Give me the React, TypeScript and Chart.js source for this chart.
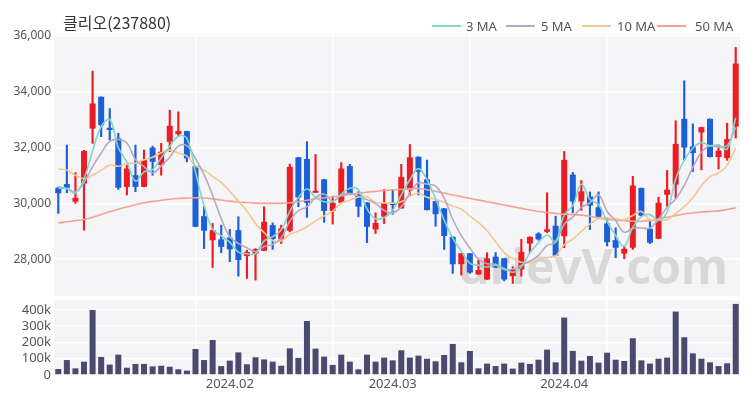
import React, { useEffect, useRef } from 'react';
import { Chart, registerables } from 'chart.js';

Chart.register(...registerables);

const TITLE = '클리오(237880)';
const WATERMARK = 'urievV.com';

// trading days (categories)
const janDays = [4, 5, 8, 9, 10, 11, 12, 15, 16, 17, 18, 19, 22, 23, 24, 25, 26, 29, 30, 31];
const febDays = [1, 2, 5, 6, 7, 8, 13, 14, 15, 16, 19, 20, 21, 22, 23, 26, 27, 28, 29];
const marDays = [4, 5, 6, 7, 8, 11, 12, 13, 14, 15, 18, 19, 20, 21, 22, 25, 26, 27, 28, 29];
const aprDays = [1, 2, 3, 4, 5, 8, 9, 11, 12, 15, 16, 17, 18, 19, 22, 23, 24, 25, 26, 29, 30];

const pad = (n: number) => (n < 10 ? '0' + n : '' + n);
const categories: string[] = [
  ...janDays.map((d) => `2024.01.${pad(d)}`),
  ...febDays.map((d) => `2024.02.${pad(d)}`),
  ...marDays.map((d) => `2024.03.${pad(d)}`),
  ...aprDays.map((d) => `2024.04.${pad(d)}`),
];

const openP = [
  30560, 30690, 30060, 30710, 32680, 33820, 32710, 32330, 30590, 31010,
  30590, 32000, 31370, 32210, 32480, 32590, 31340, 29540, 28680, 28710,
  28770, 29040, 28110, 28200, 28300, 29220, 28710, 29020, 31650, 31590,
  30380, 30860, 29730, 30020, 31340, 30300, 30030, 29070, 29520, 30020,
  29820, 30480, 31670, 30860, 30080, 29820, 28800, 27820, 28210, 27450,
  27270, 28090, 28030, 27390, 27630, 28560, 28920, 28980, 29200, 28820,
  31030, 30070, 30250, 29860, 29280, 28680, 28200, 28410, 30550, 29090,
  28730, 30310, 30670, 33030, 32040, 32540, 33030, 31660, 31620, 32750,
];
const highP = [
  30580, 32090, 31100, 31900, 34740, 33820, 33400, 32510, 31370, 32090,
  31910, 32050, 32150, 33340, 33280, 32590, 31340, 29880, 29280, 29220,
  29070, 29520, 28320, 28380, 29880, 29300, 29220, 31410, 31650, 32210,
  31750, 30860, 30260, 31460, 31400, 30420, 30030, 29660, 30500, 30500,
  31400, 32110, 31670, 31550, 30080, 29820, 28800, 28210, 28210, 27970,
  28230, 28240, 28030, 27730, 28710, 28800, 28950, 30380, 29540, 31860,
  31110, 30820, 30410, 30410, 29480, 29120, 28470, 30970, 30550, 29380,
  30220, 31180, 32960, 34390, 32850, 32730, 33030, 32100, 32870, 35590,
];
const lowP = [
  29640, 30380, 30000, 29040, 32150, 32390, 32270, 30500, 30300, 30420,
  30590, 31010, 31010, 31850, 32390, 31490, 29160, 28380, 27700, 28230,
  27910, 27390, 27310, 27250, 28300, 28350, 28560, 28980, 29880, 29500,
  30380, 29320, 29260, 30020, 30360, 29520, 28590, 28920, 29280, 29610,
  29820, 30300, 30300, 29760, 29180, 28350, 27490, 27430, 27490, 27450,
  27270, 27700, 27220, 27130, 27390, 28230, 28680, 28950, 28130, 28410,
  29660, 29750, 29060, 29480, 28470, 28050, 28020, 28350, 29560, 28560,
  28730, 29890, 30190, 31560, 31140, 31200, 31660, 31230, 31540, 32340,
];
const closeP = [
  30360, 30560, 30200, 31880, 33580, 32800, 32630, 30560, 31250, 30590,
  31550, 31490, 31850, 32780, 32590, 31610, 29160, 29020, 29040, 28440,
  28350, 27970, 28260, 28360, 29340, 28720, 29100, 31310, 30210, 30020,
  30420, 29730, 30020, 31250, 30360, 29880, 29160, 29300, 30020, 29940,
  30950, 31650, 31130, 29760, 29610, 28830, 27820, 28210, 27520, 27610,
  28030, 27700, 27270, 27630, 28260, 28800, 28710, 29070, 28130, 31560,
  30070, 30430, 29920, 29520, 28610, 28410, 28370, 30640, 29560, 28590,
  30020, 30490, 32130, 32000, 31800, 32730, 31660, 31890, 32300, 35010,
];
const volume = [
  37000, 92000, 41000, 82000, 400000, 111000, 64000, 125000, 45000, 68000,
  68000, 53000, 57000, 51000, 35000, 27000, 160000, 92000, 215000, 55000,
  88000, 139000, 66000, 109000, 96000, 82000, 57000, 164000, 105000, 332000,
  162000, 113000, 62000, 125000, 82000, 35000, 125000, 82000, 107000, 90000,
  152000, 107000, 119000, 100000, 84000, 123000, 191000, 78000, 148000, 41000,
  70000, 55000, 70000, 39000, 76000, 68000, 94000, 156000, 78000, 353000,
  148000, 88000, 117000, 76000, 137000, 94000, 86000, 226000, 90000, 70000,
  100000, 107000, 390000, 232000, 133000, 100000, 78000, 55000, 72000, 437000,
];

// moving-average values before a full window exists
const ma3Head = [30590, 30530];
const ma5Head = [30540, 30530, 30420, 30750];
const ma10Head = [31230, 31190, 31010, 30890, 31010, 31190, 31370, 31330, 31430];
const ma50 = [
  29300, 29340, 29380, 29420, 29500, 29600, 29700, 29790, 29870, 29950,
  30020, 30070, 30110, 30150, 30175, 30190, 30200, 30190, 30160, 30120,
  30080, 30050, 30030, 30010, 30000, 30000, 30000, 30020, 30060, 30110,
  30170, 30200, 30230, 30270, 30320, 30360, 30400, 30430, 30460, 30480,
  30500, 30520, 30535, 30490, 30430, 30370, 30300, 30240, 30180, 30120,
  30060, 30000, 29940, 29880, 29820, 29760, 29710, 29670, 29640, 29610,
  29600, 29580, 29540, 29480, 29430, 29400, 29380, 29360, 29360, 29380,
  29440, 29500, 29560, 29620, 29660, 29690, 29710, 29730, 29780, 29840,
];

const priceTicks = [28000, 30000, 32000, 34000, 36000];
const volumeTicks = [0, 100000, 200000, 300000, 400000];
const legendItems = ['3 MA', '5 MA', '10 MA', '50 MA'];

const RED = '#ec1c24';
const BLUE = '#1c5fd8';
const VOL = '#4a4970';
const MA_COLORS = ['#7fd6ca', '#b7a8c8', '#f2c890', '#f5a295'];
const FONT = '"Noto Sans", sans-serif';

function movingAvg(vals: number[], n: number, head: number[]) {
  return vals.map((_, i) => {
    if (i < n - 1) return head[i];
    let s = 0;
    for (let k = i - n + 1; k <= i; k++) s += vals[k];
    return s / n;
  });
}

const ma3 = movingAvg(closeP, 3, ma3Head);
const ma5 = movingAvg(closeP, 5, ma5Head);
const ma10 = movingAvg(closeP, 10, ma10Head);

const bgPlugin = {
  id: 'areaBg',
  beforeDraw(chart: any) {
    const { ctx, chartArea: a } = chart;
    ctx.save();
    ctx.fillStyle = '#f5f5f7';
    ctx.fillRect(a.left, a.top, a.right - a.left, a.bottom - a.top);
    ctx.restore();
  },
};

const watermarkPlugin = {
  id: 'watermark',
  beforeDatasetsDraw(chart: any) {
    const { ctx, chartArea: a } = chart;
    ctx.save();
    ctx.font = 'bold 48px "Open Sans", sans-serif';
    ctx.fillStyle = 'rgba(200,200,202,0.65)';
    ctx.textAlign = 'right';
    ctx.textBaseline = 'alphabetic';
    ctx.fillText(WATERMARK, a.right - 12, a.bottom - 12);
    ctx.restore();
  },
};

const vGridColor = (c: any) => (c.index > 0 && c.index % 16 === 0 ? '#ffffff' : 'rgba(0,0,0,0)');
const fixY = (s: any) => {
  s.width = 54;
  s.paddingTop = 0;
  s.paddingBottom = 0;
};

export default function App() {
  const priceRef = useRef<HTMLCanvasElement>(null);
  const volRef = useRef<HTMLCanvasElement>(null);

  useEffect(() => {
    const candleColors = closeP.map((c, i) => (c >= openP[i] ? RED : BLUE));
    const price = new Chart(priceRef.current!, {
      type: 'bar',
      data: {
        labels: categories,
        datasets: [
          ...[ma3, ma5, ma10, ma50].map((d, k) => ({
            type: 'line' as const,
            label: legendItems[k],
            data: d,
            borderColor: MA_COLORS[k],
            backgroundColor: MA_COLORS[k],
            borderWidth: 1.6,
            pointRadius: 0,
            tension: 0.4,
            order: 0,
          })),
          {
            type: 'bar' as const,
            label: 'body',
            data: openP.map((o, i) => [Math.min(o, closeP[i]), Math.max(o, closeP[i])]) as any,
            backgroundColor: candleColors,
            grouped: false,
            barPercentage: 0.7,
            categoryPercentage: 1,
            minBarLength: 2,
            order: 1,
          },
          {
            type: 'bar' as const,
            label: 'wick',
            data: lowP.map((l, i) => [l, highP[i]]) as any,
            backgroundColor: candleColors,
            grouped: false,
            barThickness: 1.5,
            order: 2,
          },
        ],
      },
      options: {
        animation: false,
        responsive: false,
        layout: { padding: { top: 34, right: 10, bottom: 2, left: 0 } },
        plugins: { legend: { display: false }, tooltip: { enabled: false } },
        scales: {
          x: {
            type: 'category',
            offset: true,
            ticks: { display: false, autoSkip: false },
            grid: { offset: false, color: vGridColor, lineWidth: 1.5, drawTicks: false },
            border: { display: false },
            afterFit: (s: any) => { s.height = 0; },
          },
          y: {
            min: 26680,
            max: 36070,
            afterBuildTicks: (s: any) => { s.ticks = priceTicks.map((v) => ({ value: v })); },
            afterFit: fixY,
            ticks: {
              autoSkip: false,
              callback: (v: any) => Number(v).toLocaleString('en-US'),
              font: { size: 12, family: FONT },
              color: '#555',
              padding: 3,
            },
            grid: { color: '#ffffff', lineWidth: 1.5, drawTicks: false },
            border: { display: false },
          },
        },
      } as any,
      plugins: [bgPlugin, watermarkPlugin],
    });

    const vol = new Chart(volRef.current!, {
      type: 'bar',
      data: {
        labels: categories,
        datasets: [
          {
            label: 'volume',
            data: volume,
            backgroundColor: VOL,
            barPercentage: 0.7,
            categoryPercentage: 1,
          },
        ],
      },
      options: {
        animation: false,
        responsive: false,
        layout: { padding: { top: 2, right: 10, bottom: 0, left: 0 } },
        plugins: { legend: { display: false }, tooltip: { enabled: false } },
        scales: {
          x: {
            type: 'category',
            offset: true,
            ticks: {
              autoSkip: false,
              maxRotation: 0,
              padding: 1,
              font: { size: 13, family: FONT },
              color: '#555',
              callback: (_v: any, i: number) => {
                if (i === 0) return '';
                const cur = categories[i].slice(0, 7);
                const prev = categories[i - 1].slice(0, 7);
                return cur !== prev ? cur : '';
              },
            },
            grid: { offset: false, color: vGridColor, lineWidth: 1.5, drawTicks: false },
            border: { display: false },
            afterFit: (s: any) => { s.height = 25; },
          },
          y: {
            min: 0,
            max: 461000,
            afterBuildTicks: (s: any) => { s.ticks = volumeTicks.map((v) => ({ value: v })); },
            afterFit: fixY,
            ticks: {
              autoSkip: false,
              callback: (v: any) => (Number(v) === 0 ? '0' : Number(v) / 1000 + 'k'),
              font: { size: 13, family: FONT },
              color: '#555',
              padding: 3,
            },
            grid: { color: '#ffffff', lineWidth: 1.5, drawTicks: false },
            border: { display: false },
          },
        },
      } as any,
      plugins: [bgPlugin],
    });

    return () => {
      price.destroy();
      vol.destroy();
    };
  }, []);

  const lineLefts = [432, 506, 582, 657];
  const textLefts = [466, 541, 617, 695];

  return (
    <div style={{ position: 'fixed', left: 0, top: 0, width: 750, height: 400, background: '#fff', overflow: 'hidden' }}>
      <canvas ref={priceRef} width={750} height={298} style={{ position: 'absolute', left: 0, top: 0 }} />
      <canvas ref={volRef} width={750} height={102} style={{ position: 'absolute', left: 0, top: 298 }} />
      <div
        style={{
          position: 'absolute',
          left: 63,
          top: 11,
          fontFamily: '"Noto Sans CJK KR", sans-serif',
          fontSize: 16,
          lineHeight: '22px',
          color: '#333',
          whiteSpace: 'nowrap',
        }}
      >
        {TITLE}
      </div>
      {legendItems.map((t, k) => (
        <React.Fragment key={t}>
          <div style={{ position: 'absolute', left: lineLefts[k], top: 25, width: 29, height: 2, background: MA_COLORS[k] }} />
          <div
            style={{
              position: 'absolute',
              left: textLefts[k],
              top: 17,
              fontFamily: FONT,
              fontSize: 13,
              lineHeight: '18px',
              color: '#555',
              whiteSpace: 'nowrap',
            }}
          >
            {t}
          </div>
        </React.Fragment>
      ))}
    </div>
  );
}
